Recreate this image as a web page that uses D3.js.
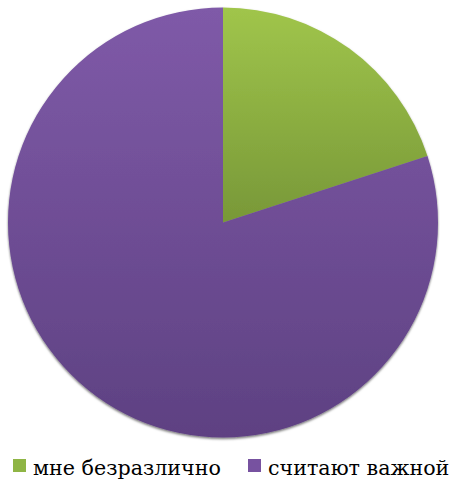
<!DOCTYPE html>
<html>
<head>
<meta charset="utf-8">
<script src="https://cdn.jsdelivr.net/npm/d3@7"></script>
<style>
  html, body { margin: 0; padding: 0; background: #fff; }
  svg { display: block; }
  .legend-label { font-family: "DejaVu Serif", serif; }
</style>
</head>
<body>
<svg id="chart" width="454" height="482"></svg>
<script>
// Survey answers (share of respondents, %)
const categories = ["мне безразлично", "считают важной"];
const values = [20, 80];
const topColors = ["#a0c54b", "#7f5aa8"];
const bottomColors = ["#789838", "#5e4182"];

const cx = 223, cy = 222.5, radius = 215;

const svg = d3.select("#chart");
const defs = svg.append("defs");

// Vertical gradients (coordinates relative to the pie centre)
const gradExtent = [[-radius, 0], [-radius, radius]];
categories.forEach((c, i) => {
  const g = defs.append("linearGradient")
    .attr("id", "grad" + i)
    .attr("gradientUnits", "userSpaceOnUse")
    .attr("x1", 0).attr("y1", gradExtent[i][0])
    .attr("x2", 0).attr("y2", gradExtent[i][1]);
  g.append("stop").attr("offset", "0%").attr("stop-color", topColors[i]);
  g.append("stop").attr("offset", "100%").attr("stop-color", bottomColors[i]);
});

const shadow = defs.append("filter").attr("id", "shadow")
  .attr("x", "-10%").attr("y", "-10%").attr("width", "120%").attr("height", "120%");
shadow.append("feDropShadow")
  .attr("dx", 0).attr("dy", 1.5).attr("stdDeviation", 1.2)
  .attr("flood-color", "#000").attr("flood-opacity", 0.55);

const pie = d3.pie().sort(null).value(d => d)(values);
const arc = d3.arc().innerRadius(0).outerRadius(radius);

const g = svg.append("g")
  .attr("transform", `translate(${cx},${cy})`)
  .attr("filter", "url(#shadow)");

g.selectAll("path")
  .data(pie)
  .join("path")
  .attr("d", arc)
  .attr("fill", (d, i) => `url(#grad${i})`);

// Legend
const legendColors = ["#8fb545", "#7752a0"];
const legend = svg.append("g");
const itemX = [13, 248];
const labels = categories.map((c, i) => {
  legend.append("rect")
    .attr("x", itemX[i]).attr("y", 459)
    .attr("width", 13).attr("height", 13)
    .attr("fill", legendColors[i]);
  return legend.append("text")
    .attr("class", "legend-label")
    .attr("x", itemX[i] + 20).attr("y", 475)
    .attr("font-size", 22)
    .attr("fill", "#000")
    .text(c);
});

// size the labels so the first one spans about 188px
const w = labels[0].node().getComputedTextLength();
const size = 22 * 188 / w;
labels.forEach(t => t.attr("font-size", size));
</script>
</body>
</html>
